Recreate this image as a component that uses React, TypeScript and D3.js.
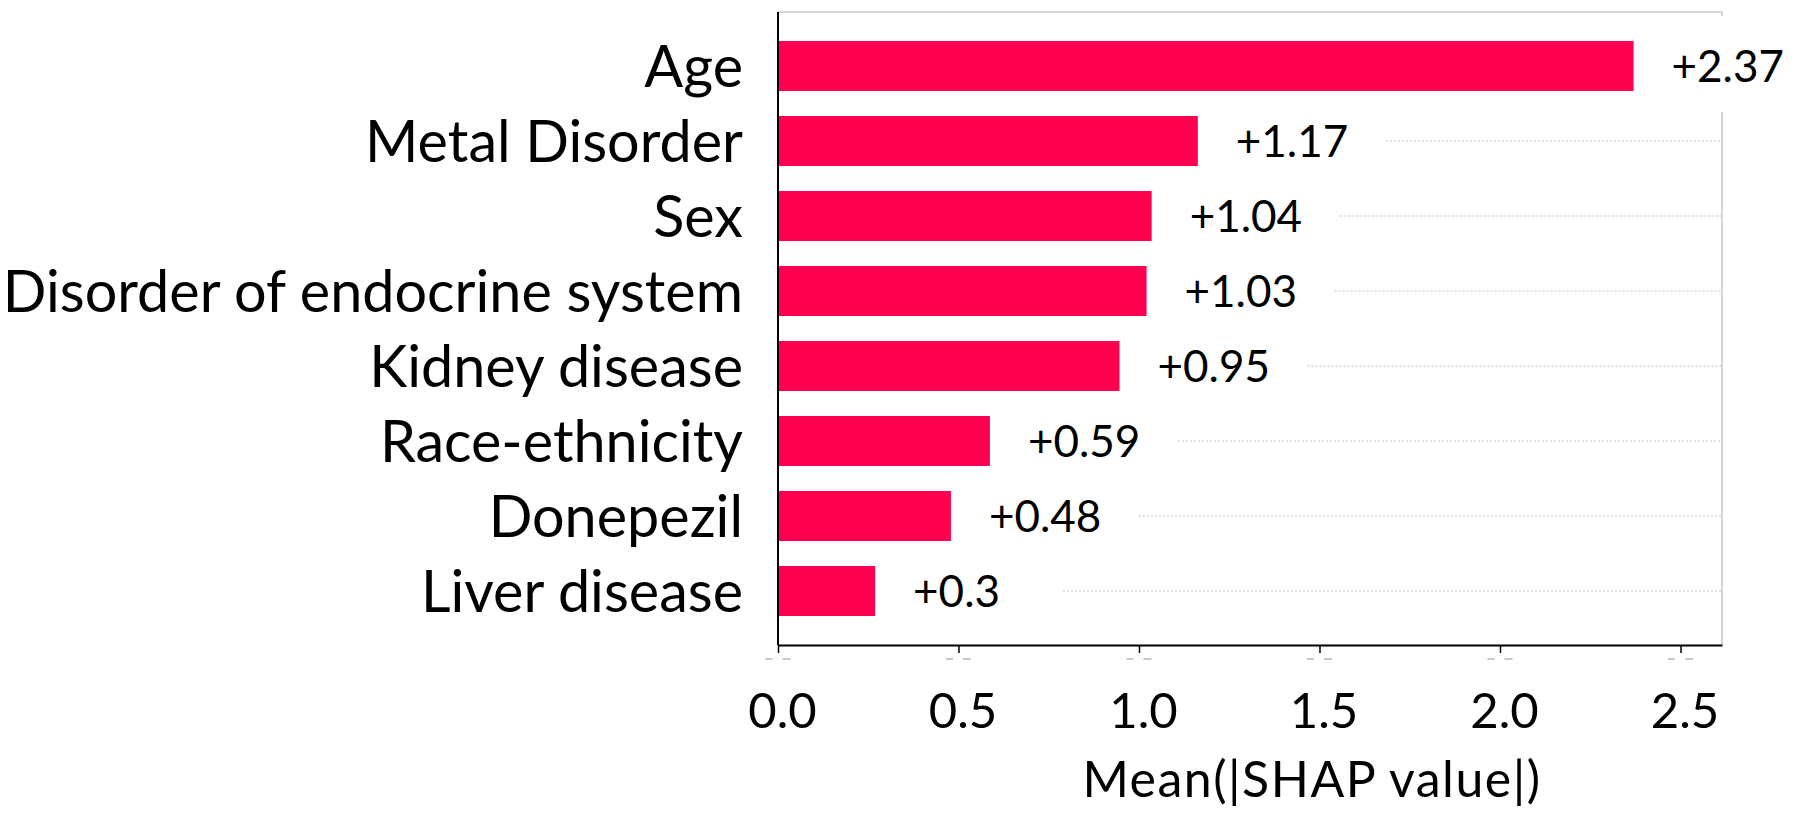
import * as d3 from 'd3';
import { useEffect, useRef } from 'react';

const features = [
  'Age',
  'Metal Disorder',
  'Sex',
  'Disorder of endocrine system',
  'Kidney disease',
  'Race-ethnicity',
  'Donepezil',
  'Liver disease',
];
const barValues = [2.37, 1.163, 1.035, 1.021, 0.946, 0.587, 0.479, 0.269];
const valueLabels = ['+2.37', '+1.17', '+1.04', '+1.03', '+0.95', '+0.59', '+0.48', '+0.3'];
const tickValues = [0, 0.5, 1.0, 1.5, 2.0, 2.5];
const axisTitle = 'Mean(|SHAP value|)';

const App = () => {
  const svgRef = useRef(null);

  useEffect(() => {
    const width = 1800;
    const height = 815;
    const left = 778;
    const right = 1722;
    const top = 12;
    const bottom = 645;
    const font = 'Lato, "Open Sans", sans-serif';

    const svg = d3.select(svgRef.current)
      .attr('width', width)
      .attr('height', height);
    svg.selectAll('*').remove();

    const x = d3.scaleLinear().domain([0, 2.615]).range([left, right]);
    const y = d3.scaleBand()
      .domain(features)
      .range([top, bottom])
      .paddingInner(1 / 3)
      .paddingOuter(0.387);

    const rows = features.map((f, i) => ({ name: f, value: barValues[i], label: valueLabels[i] }));

    // frame (light gray top and right)
    svg.append('path')
      .attr('d', `M${left},${top}H${right}V${bottom}`)
      .attr('fill', 'none')
      .attr('stroke', '#c8c8c8')
      .attr('stroke-width', 1.5);

    // dotted guide lines to the right of the labels
    svg.selectAll('.guide')
      .data(rows)
      .enter()
      .append('line')
      .attr('class', 'guide')
      .attr('x1', (d) => x(d.value) + 188)
      .attr('x2', right)
      .attr('y1', (d) => y(d.name) + y.bandwidth() / 2)
      .attr('y2', (d) => y(d.name) + y.bandwidth() / 2)
      .attr('stroke', '#d4d4d4')
      .attr('stroke-width', 1.5)
      .attr('stroke-dasharray', '2,2');

    // white boxes behind value labels
    svg.selectAll('.lblbox')
      .data(rows)
      .enter()
      .append('rect')
      .attr('class', 'lblbox')
      .attr('x', (d) => x(d.value) + 30)
      .attr('y', (d) => y(d.name) - 25)
      .attr('width', 140)
      .attr('height', y.bandwidth() + 46)
      .attr('fill', '#fff');

    // bars
    svg.selectAll('.bar')
      .data(rows)
      .enter()
      .append('rect')
      .attr('class', 'bar')
      .attr('x', x(0))
      .attr('y', (d) => y(d.name))
      .attr('width', (d) => x(d.value) - x(0))
      .attr('height', y.bandwidth())
      .attr('fill', '#ff0051');

    // value labels
    svg.selectAll('.val')
      .data(rows)
      .enter()
      .append('text')
      .attr('class', 'val')
      .attr('x', (d) => x(d.value) + 38)
      .attr('y', (d) => y(d.name) + y.bandwidth() / 2 + 16)
      .attr('font-family', font)
      .attr('font-size', 44)
      .attr('fill', '#000')
      .text((d) => d.label);

    // feature names
    svg.selectAll('.name')
      .data(rows)
      .enter()
      .append('text')
      .attr('class', 'name')
      .attr('x', left - 35)
      .attr('y', (d) => y(d.name) + y.bandwidth() / 2 + 21)
      .attr('text-anchor', 'end')
      .attr('font-family', font)
      .attr('font-size', 57.5)
      .attr('fill', '#000')
      .text((d) => d.name);

    // left axis line
    svg.append('line')
      .attr('x1', left).attr('x2', left)
      .attr('y1', top).attr('y2', bottom)
      .attr('stroke', '#000')
      .attr('stroke-width', 2);

    // bottom axis
    const axis = svg.append('g')
      .attr('transform', `translate(0,${bottom})`)
      .call(d3.axisBottom(x).tickValues(tickValues).tickSize(8).tickSizeOuter(0).tickFormat(d3.format('.1f')));
    axis.select('.domain').attr('stroke', '#000').attr('stroke-width', 2);
    axis.selectAll('.tick line').attr('stroke', '#000').attr('stroke-width', 1.5);
    axis.selectAll('.tick text')
      .attr('font-family', font)
      .attr('font-size', 49)
      .attr('fill', '#000')
      .attr('dy', 0)
      .attr('y', 83)
      .attr('x', 4);

    // faint leftovers of the original small tick labels
    const ghost = axis.selectAll('.tick').append('g').attr('stroke', '#c8c8c8').attr('stroke-width', 2);
    ghost.append('line').attr('x1', -13).attr('x2', -6).attr('y1', 14).attr('y2', 14);
    ghost.append('line').attr('x1', 4).attr('x2', 12).attr('y1', 14).attr('y2', 14);

    // axis title
    svg.append('text')
      .attr('x', 1312)
      .attr('y', 797)
      .attr('text-anchor', 'middle')
      .attr('font-family', font)
      .attr('font-size', 50)
      .attr('letter-spacing', 1.5)
      .attr('fill', '#000')
      .text(axisTitle);

    return () => {
      svg.selectAll('*').remove();
    };
  }, []);

  return <svg ref={svgRef} style={{ position: 'absolute', left: 0, top: 0, background: '#fff' }} />;
};

export default App;
